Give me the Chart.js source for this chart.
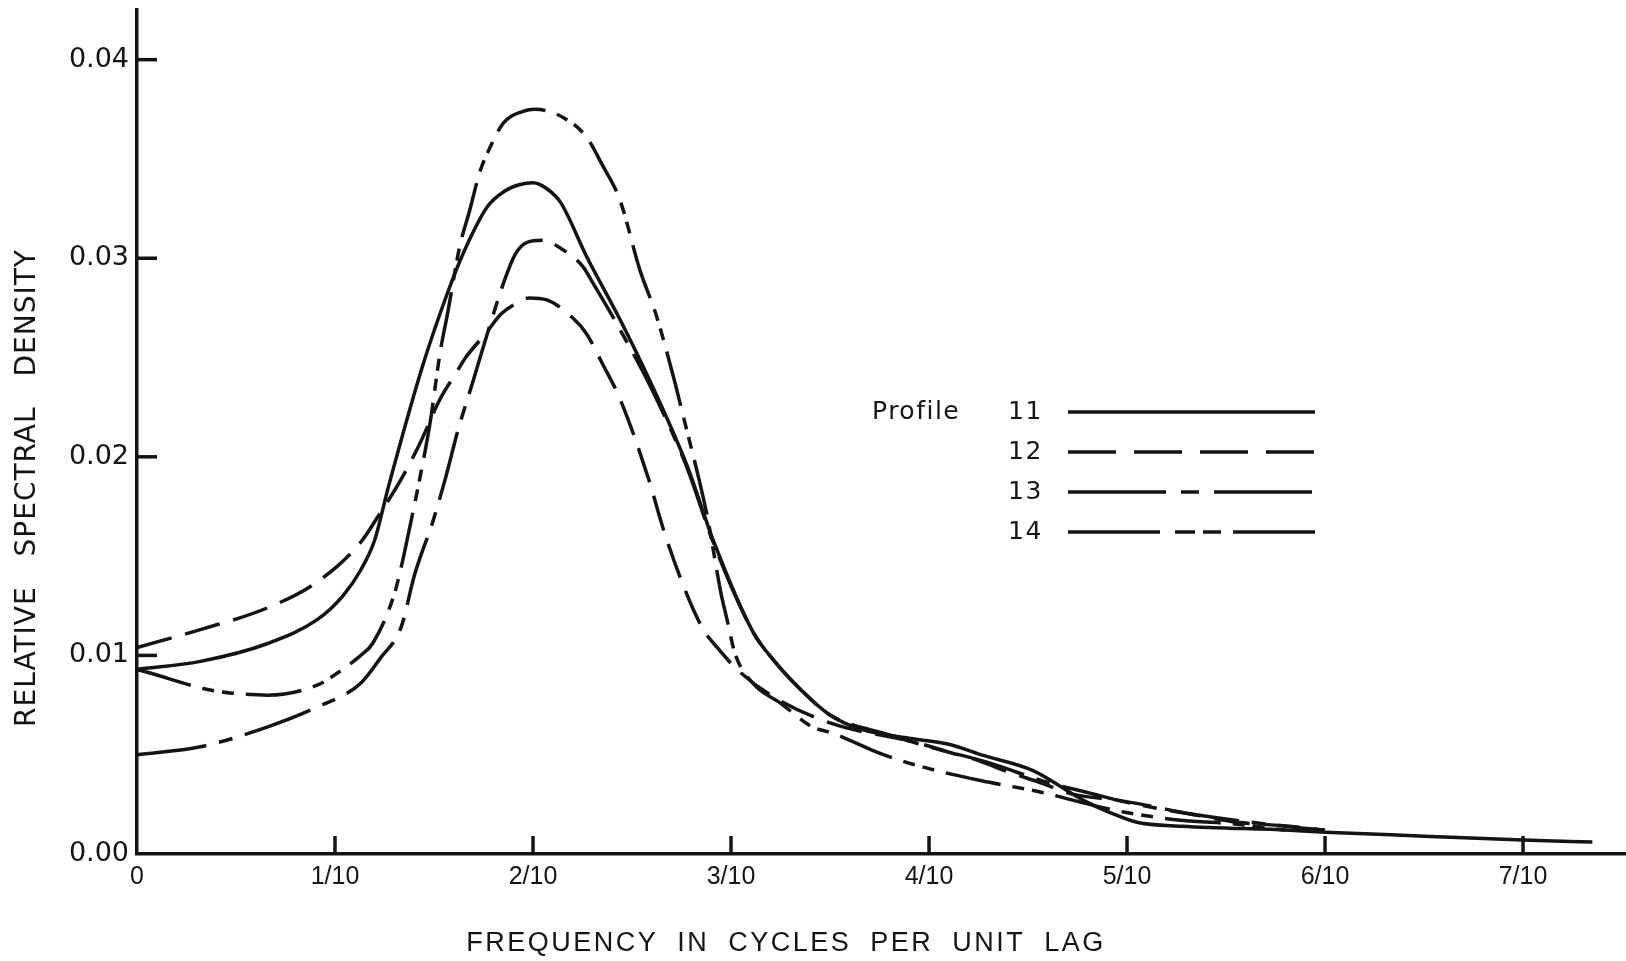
<!DOCTYPE html>
<html lang="en">
<head>
<meta charset="UTF-8" />
<title>Relative Spectral Density</title>
<style>
  html, body { margin: 0; background: #fff; }
  #wrap { width: 1626px; height: 961px; }
</style>
</head>
<body>
<div id="wrap"><canvas id="spectrum"></canvas></div>
<script src="https://cdn.jsdelivr.net/npm/chart.js"></script>
<script>
// tick values and labels
const xTickValues = [0, 0.1, 0.2, 0.3, 0.4, 0.5, 0.6, 0.7];
const xTickLabels = ['0', '1/10', '2/10', '3/10', '4/10', '5/10', '6/10', '7/10'];
const yTickValues = [0, 0.01, 0.02, 0.03, 0.04];
const yTickLabels = ['0.00', '0.01', '0.02', '0.03', '0.04'];

const seriesNames = ['11', '12', '13', '14'];

// profile 11 (solid)
const freq11 = [0, 0.032, 0.066, 0.091, 0.104, 0.113, 0.120, 0.127, 0.144, 0.157, 0.165, 0.177, 0.186, 0.193, 0.200, 0.207, 0.214, 0.227, 0.244, 0.261, 0.278, 0.291, 0.311, 0.322, 0.335, 0.350, 0.365, 0.392, 0.411, 0.426, 0.4525, 0.478, 0.491, 0.505, 0.528, 0.582, 0.600, 0.650, 0.700, 0.735];
const dens11 = [0.0093, 0.0097, 0.0106, 0.0118, 0.0130, 0.0143, 0.0158, 0.0185, 0.0245, 0.0283, 0.0303, 0.0326, 0.0334, 0.0337, 0.0338, 0.0335, 0.0328, 0.0301, 0.0269, 0.0234, 0.0195, 0.0158, 0.0112, 0.0097, 0.0083, 0.0070, 0.0063, 0.0058, 0.0055, 0.0050, 0.0042, 0.0027, 0.0021, 0.0016, 0.0014, 0.0012, 0.0011, 0.0009, 0.0007, 0.0006];

// profile 12 (dashed)
const freq12 = [0, 0.032, 0.066, 0.091, 0.113, 0.123, 0.133, 0.143, 0.153, 0.161, 0.166, 0.176, 0.184, 0.191, 0.198, 0.207, 0.220, 0.227, 0.235, 0.244, 0.258, 0.266, 0.276, 0.286, 0.293, 0.303, 0.320, 0.350, 0.394, 0.411, 0.422, 0.441, 0.456, 0.473, 0.496, 0.538, 0.556, 0.582, 0.600];
const dens12 = [0.0104, 0.0113, 0.0124, 0.0137, 0.0157, 0.0172, 0.0188, 0.0207, 0.0229, 0.0242, 0.0250, 0.0262, 0.0272, 0.0277, 0.0280, 0.0279, 0.0270, 0.0262, 0.0247, 0.0229, 0.0190, 0.0163, 0.0135, 0.0113, 0.0104, 0.0093, 0.0080, 0.0066, 0.0056, 0.0051, 0.0048, 0.0041, 0.0036, 0.0030, 0.0027, 0.0019, 0.0016, 0.0014, 0.0012];

// profile 13 (long dash, short dash)
const freq13 = [0, 0.032, 0.066, 0.091, 0.113, 0.124, 0.131, 0.134, 0.140, 0.145, 0.148, 0.156, 0.162, 0.170, 0.176, 0.186, 0.191, 0.197, 0.205, 0.214, 0.225, 0.230, 0.244, 0.261, 0.278, 0.291, 0.311, 0.322, 0.335, 0.350, 0.380, 0.400, 0.430, 0.460, 0.480, 0.500, 0.540, 0.580, 0.600];
const dens13 = [0.0050, 0.0054, 0.0064, 0.0074, 0.0086, 0.0100, 0.0109, 0.0116, 0.0140, 0.0155, 0.0163, 0.0190, 0.0213, 0.0239, 0.0259, 0.0290, 0.0302, 0.0308, 0.0309, 0.0305, 0.0296, 0.0288, 0.0264, 0.0232, 0.0194, 0.0157, 0.0112, 0.0097, 0.0083, 0.0070, 0.0060, 0.0054, 0.0046, 0.0036, 0.0031, 0.0026, 0.0019, 0.0014, 0.0012];

// profile 14 (long dash, two short dashes)
const freq14 = [0, 0.007, 0.035, 0.048, 0.066, 0.091, 0.101, 0.113, 0.119, 0.130, 0.134, 0.137, 0.143, 0.148, 0.153, 0.157, 0.163, 0.168, 0.173, 0.177, 0.185, 0.195, 0.201, 0.215, 0.227, 0.235, 0.244, 0.254, 0.262, 0.271, 0.276, 0.284, 0.288, 0.295, 0.298, 0.302, 0.311, 0.325, 0.341, 0.351, 0.377, 0.400, 0.426, 0.457, 0.485, 0.499, 0.527, 0.556, 0.580];
const dens14 = [0.0093, 0.0091, 0.0083, 0.0081, 0.0080, 0.0085, 0.0091, 0.0100, 0.0106, 0.0131, 0.0147, 0.0161, 0.0190, 0.0217, 0.0252, 0.0273, 0.0306, 0.0324, 0.0343, 0.0353, 0.0368, 0.0374, 0.0375, 0.0371, 0.0361, 0.0347, 0.0329, 0.0294, 0.0272, 0.0240, 0.0220, 0.0188, 0.0170, 0.0131, 0.0118, 0.0101, 0.0086, 0.0076, 0.0064, 0.0061, 0.0050, 0.0043, 0.0037, 0.0031, 0.0024, 0.0021, 0.0017, 0.0015, 0.0012];

const INK = '#141414';
const FONT = '"Liberation Sans", Arial, sans-serif';
const WIDE = '"DejaVu Sans", sans-serif';

const toPoints = (xs, ys) => xs.map((x, i) => ({ x: x, y: ys[i] }));

const curveDash = [[], [36, 14], [70, 13, 14, 13], [56, 12, 12, 8, 12, 12]];
const legendDash = [[], [48, 18], [98, 15, 18, 15], [92, 15, 20, 8, 18, 12]];

const makeSet = (i, xs, ys) => ({
  label: seriesNames[i],
  data: toPoints(xs, ys),
  showLine: true,
  borderColor: INK,
  borderWidth: 3.5,
  borderDash: curveDash[i],
  pointRadius: 0,
  cubicInterpolationMode: 'monotone',
  fill: false
});

// inward tick marks, axis titles and the hand-made legend
const decorations = {
  id: 'decorations',
  afterDraw(chart) {
    const { ctx, chartArea, scales } = chart;
    const x = scales.x, y = scales.y;
    ctx.save();
    ctx.strokeStyle = INK;
    ctx.lineWidth = 3.5;
    ctx.lineCap = 'butt';
    xTickValues.forEach(v => {
      if (v === 0) return;
      const px = x.getPixelForValue(v);
      ctx.beginPath();
      ctx.moveTo(px, chartArea.bottom);
      ctx.lineTo(px, chartArea.bottom - 18);
      ctx.stroke();
    });
    yTickValues.forEach(v => {
      if (v === 0) return;
      const py = y.getPixelForValue(v);
      ctx.beginPath();
      ctx.moveTo(chartArea.left, py);
      ctx.lineTo(chartArea.left + 20, py);
      ctx.stroke();
    });

    ctx.fillStyle = INK;
    ctx.textBaseline = 'middle';

    // x title
    ctx.font = '27px ' + FONT;
    ctx.letterSpacing = '2.5px';
    ctx.wordSpacing = '9px';
    ctx.textAlign = 'center';
    ctx.fillText('FREQUENCY IN CYCLES PER UNIT LAG', 786, 944);

    // y title
    ctx.save();
    ctx.translate(28, 488);
    ctx.rotate(-Math.PI / 2);
    ctx.font = '28px ' + WIDE;
    ctx.letterSpacing = '1px';
    ctx.wordSpacing = '20px';
    ctx.fillText('RELATIVE SPECTRAL DENSITY', 0, 0);
    ctx.restore();

    // legend
    ctx.letterSpacing = '1.5px';
    ctx.wordSpacing = '0px';
    ctx.font = '25px ' + WIDE;
    ctx.textAlign = 'left';
    ctx.fillText('Profile', 872, 412);
    const rows = [412, 452, 492, 532];
    seriesNames.forEach((name, i) => {
      ctx.fillText(name, 1008, rows[i]);
      ctx.beginPath();
      ctx.setLineDash(legendDash[i]);
      ctx.moveTo(1068, rows[i]);
      ctx.lineTo(1315, rows[i]);
      ctx.stroke();
    });
    ctx.restore();
  }
};

new Chart(document.getElementById('spectrum'), {
  type: 'scatter',
  data: {
    datasets: [
      makeSet(0, freq11, dens11),
      makeSet(1, freq12, dens12),
      makeSet(2, freq13, dens13),
      makeSet(3, freq14, dens14)
    ]
  },
  options: {
    responsive: true,
    maintainAspectRatio: false,
    animation: false,
    layout: { padding: { top: 10, right: 0, left: 0, bottom: 0 } },
    plugins: {
      legend: { display: false },
      tooltip: { enabled: false }
    },
    scales: {
      x: {
        type: 'linear',
        min: 0,
        max: 0.752,
        afterBuildTicks: s => { s.ticks = xTickValues.map(v => ({ value: v })); },
        afterFit: s => { s.height = 107; s.paddingLeft = 0; s.paddingRight = 0; },
        grid: { display: false, drawTicks: false },
        border: { display: true, color: INK, width: 3.5 },
        ticks: {
          callback: (v, i) => xTickLabels[i],
          color: INK,
          font: { family: FONT, size: 25 },
          padding: 8,
          maxRotation: 0,
          autoSkip: false
        }
      },
      y: {
        type: 'linear',
        min: 0,
        max: 0.0425,
        afterBuildTicks: s => { s.ticks = yTickValues.map(v => ({ value: v })); },
        afterFit: s => { s.width = 137; s.paddingTop = 0; s.paddingBottom = 0; },
        grid: { display: false, drawTicks: false },
        border: { display: true, color: INK, width: 3.5 },
        ticks: {
          callback: (v, i) => yTickLabels[i],
          color: INK,
          font: { family: WIDE, size: 27 },
          padding: 8,
          autoSkip: false
        }
      }
    }
  },
  plugins: [decorations]
});
</script>
</body>
</html>
